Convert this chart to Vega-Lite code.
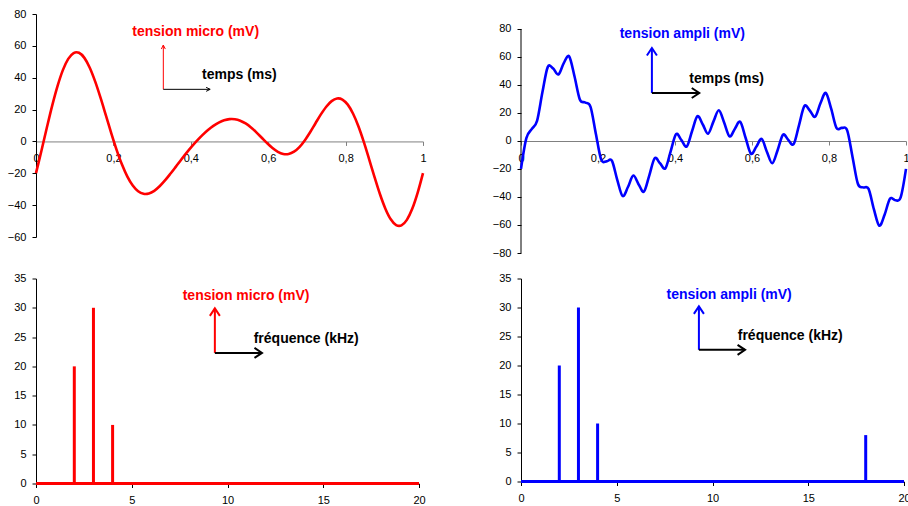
{
  "$schema": "https://vega.github.io/schema/vega-lite/v6.json",
  "autosize": {"type": "none"},
  "padding": {"left": 36, "top": 14, "right": 872, "bottom": 492},
  "background": "white",
  "config": {
    "view": {"stroke": null},
    "axis": {"labelFont": "Liberation Sans", "labelFontSize": 11, "labelColor": "#000000", "domainColor": "#000000", "tickColor": "#000000", "grid": false, "tickSize": 4, "labelFlush": false, "labelOverlap": false, "tickCount": 30, "format": "~g"},
    "text": {"font": "Liberation Sans"}
  },
  "datasets": {
    "time": [
      {"t": 0, "micro": -19.90, "ampli": -19.90},
      {"t": 0.0139, "micro": -5.99, "ampli": 2.01},
      {"t": 0.0278, "micro": 8.43, "ampli": 8.43},
      {"t": 0.0417, "micro": 22.33, "ampli": 14.33},
      {"t": 0.0556, "micro": 34.73, "ampli": 34.73},
      {"t": 0.0694, "micro": 44.77, "ampli": 52.77},
      {"t": 0.0833, "micro": 51.83, "ampli": 51.83},
      {"t": 0.0972, "micro": 55.50, "ampli": 47.50},
      {"t": 0.1111, "micro": 55.65, "ampli": 55.65},
      {"t": 0.125, "micro": 52.45, "ampli": 60.45},
      {"t": 0.1389, "micro": 46.26, "ampli": 46.26},
      {"t": 0.1528, "micro": 37.68, "ampli": 29.68},
      {"t": 0.1667, "micro": 27.46, "ampli": 27.46},
      {"t": 0.1806, "micro": 16.37, "ampli": 24.37},
      {"t": 0.1944, "micro": 5.23, "ampli": 5.23},
      {"t": 0.2083, "micro": -5.28, "ampli": -13.28},
      {"t": 0.2222, "micro": -14.54, "ampli": -14.54},
      {"t": 0.2361, "micro": -22.10, "ampli": -14.10},
      {"t": 0.25, "micro": -27.72, "ampli": -27.72},
      {"t": 0.2639, "micro": -31.28, "ampli": -39.28},
      {"t": 0.2778, "micro": -32.87, "ampli": -32.87},
      {"t": 0.2917, "micro": -32.69, "ampli": -24.69},
      {"t": 0.3056, "micro": -31.01, "ampli": -31.01},
      {"t": 0.3194, "micro": -28.17, "ampli": -36.17},
      {"t": 0.3333, "micro": -24.51, "ampli": -24.51},
      {"t": 0.3472, "micro": -20.33, "ampli": -12.33},
      {"t": 0.3611, "micro": -15.95, "ampli": -15.95},
      {"t": 0.375, "micro": -11.51, "ampli": -19.51},
      {"t": 0.3889, "micro": -7.22, "ampli": -7.22},
      {"t": 0.4028, "micro": -3.14, "ampli": 4.86},
      {"t": 0.4167, "micro": 0.64, "ampli": 0.64},
      {"t": 0.4306, "micro": 4.08, "ampli": -3.92},
      {"t": 0.4444, "micro": 7.13, "ampli": 7.13},
      {"t": 0.4583, "micro": 9.74, "ampli": 17.74},
      {"t": 0.4722, "micro": 11.80, "ampli": 11.80},
      {"t": 0.4861, "micro": 13.26, "ampli": 5.26},
      {"t": 0.5, "micro": 13.98, "ampli": 13.98},
      {"t": 0.5139, "micro": 13.91, "ampli": 21.91},
      {"t": 0.5278, "micro": 13.01, "ampli": 13.01},
      {"t": 0.5417, "micro": 11.27, "ampli": 3.27},
      {"t": 0.5556, "micro": 8.79, "ampli": 8.79},
      {"t": 0.5694, "micro": 5.71, "ampli": 13.71},
      {"t": 0.5833, "micro": 2.31, "ampli": 2.31},
      {"t": 0.5972, "micro": -1.10, "ampli": -9.10},
      {"t": 0.6111, "micro": -4.17, "ampli": -4.17},
      {"t": 0.625, "micro": -6.53, "ampli": 1.47},
      {"t": 0.6389, "micro": -7.84, "ampli": -7.84},
      {"t": 0.6528, "micro": -7.86, "ampli": -15.86},
      {"t": 0.6667, "micro": -6.42, "ampli": -6.42},
      {"t": 0.6806, "micro": -3.53, "ampli": 4.47},
      {"t": 0.6944, "micro": 0.65, "ampli": 0.65},
      {"t": 0.7083, "micro": 5.78, "ampli": -2.22},
      {"t": 0.7222, "micro": 11.40, "ampli": 11.40},
      {"t": 0.7361, "micro": 16.96, "ampli": 24.96},
      {"t": 0.75, "micro": 21.80, "ampli": 21.80},
      {"t": 0.7639, "micro": 25.32, "ampli": 17.32},
      {"t": 0.7778, "micro": 26.95, "ampli": 26.95},
      {"t": 0.7917, "micro": 26.29, "ampli": 34.29},
      {"t": 0.8056, "micro": 23.09, "ampli": 23.09},
      {"t": 0.8194, "micro": 17.37, "ampli": 9.37},
      {"t": 0.8333, "micro": 9.37, "ampli": 9.37},
      {"t": 0.8472, "micro": -0.43, "ampli": 7.57},
      {"t": 0.8611, "micro": -11.37, "ampli": -11.37},
      {"t": 0.875, "micro": -22.57, "ampli": -30.57},
      {"t": 0.8889, "micro": -33.16, "ampli": -33.16},
      {"t": 0.9028, "micro": -42.20, "ampli": -34.20},
      {"t": 0.9167, "micro": -48.88, "ampli": -48.88},
      {"t": 0.9306, "micro": -52.52, "ampli": -60.52},
      {"t": 0.9444, "micro": -52.69, "ampli": -52.69},
      {"t": 0.9583, "micro": -49.24, "ampli": -41.24},
      {"t": 0.9722, "micro": -42.30, "ampli": -42.30},
      {"t": 0.9861, "micro": -32.28, "ampli": -40.28},
      {"t": 1, "micro": -19.90, "ampli": -19.90}
    ],
    "spec_micro": [
      {"f": 2, "a": 20},
      {"f": 3, "a": 30},
      {"f": 4, "a": 10}
    ],
    "spec_ampli": [
      {"f": 2, "a": 20},
      {"f": 3, "a": 30},
      {"f": 4, "a": 10},
      {"f": 18, "a": 8}
    ]
  },
  "columns": 2,
  "spacing": {"row": 25.5, "column": 98},
  "bounds": "flush",
  "concat": [
    {
      "width": 387, "height": 223,
      "layer": [
        {"data": {"name": "time"},
         "mark": {"type": "line", "color": "#ff0000", "strokeWidth": 2.6, "interpolate": "cardinal"},
         "encoding": {
           "x": {"field": "t", "type": "quantitative", "scale": {"domain": [0, 1], "nice": false, "zero": false},
                 "axis": {"title": null, "values": [0, 0.2, 0.4, 0.6, 0.8, 1], "tickCount": 30, "format": "~g", "labelExpr": "replace(datum.label, '.', ',')", "offset": -95.57, "domainColor": "#808080", "tickColor": "#808080", "labelPadding": 7, "labelOverlap": false}},
           "y": {"field": "micro", "type": "quantitative", "scale": {"domain": [-60, 80], "nice": false, "zero": false},
                 "axis": {"title": null, "values": [-60, -40, -20, 0, 20, 40, 60, 80], "tickCount": 30, "format": "~g", "labelPadding": 6, "labelOverlap": false}}
         }},
        {"data": {"values": [{}]}, "mark": {"type": "rule", "color": "#ff0000", "strokeWidth": 1},
         "encoding": {"x": {"datum": 0.329}, "y": {"datum": 32.7}, "y2": {"datum": 60.5}}},
        {"data": {"values": [{}]}, "mark": {"type": "point", "shape": "M-1,2L0,0L1,2", "size": 16, "filled": false, "color": "#ff0000", "strokeWidth": 1, "opacity": 1},
         "encoding": {"x": {"datum": 0.329}, "y": {"datum": 60.5}}},
        {"data": {"values": [{}]}, "mark": {"type": "rule", "color": "#000000", "strokeWidth": 1},
         "encoding": {"x": {"datum": 0.329}, "x2": {"datum": 0.45}, "y": {"datum": 32.7}}},
        {"data": {"values": [{}]}, "mark": {"type": "point", "shape": "M-2,-1L0,0L-2,1", "size": 16, "filled": false, "color": "#000000", "strokeWidth": 1, "opacity": 1},
         "encoding": {"x": {"datum": 0.45}, "y": {"datum": 32.7}}},
        {"data": {"values": [{}]}, "mark": {"type": "text", "fontWeight": "bold", "fontSize": 14, "color": "#ff0000", "align": "center", "baseline": "middle"},
         "encoding": {"x": {"datum": 0.4125}, "y": {"datum": 68.9}, "text": {"value": "tension micro (mV)"}}},
        {"data": {"values": [{}]}, "mark": {"type": "text", "fontWeight": "bold", "fontSize": 14, "color": "#000000", "align": "center", "baseline": "middle"},
         "encoding": {"x": {"datum": 0.5255}, "y": {"datum": 42}, "text": {"value": "temps (ms)"}}}
      ]
    },
    {
      "width": 385, "height": 239,
      "layer": [
        {"data": {"values": [{}]}, "mark": {"type": "rule", "color": "#000000", "strokeWidth": 1},
         "encoding": {"x": {"datum": 0}, "y": {"datum": -80}, "y2": {"datum": 80}}},
        {"data": {"name": "time"},
         "mark": {"type": "line", "color": "#0000ff", "strokeWidth": 2.6, "interpolate": "cardinal"},
         "encoding": {
           "x": {"field": "t", "type": "quantitative", "scale": {"domain": [0, 1], "nice": false, "zero": false},
                 "axis": {"title": null, "values": [0, 0.2, 0.4, 0.6, 0.8, 1], "tickCount": 30, "format": "~g", "labelExpr": "replace(datum.label, '.', ',')", "offset": -112, "domainColor": "#808080", "tickColor": "#808080", "labelPadding": 7, "labelOverlap": false}},
           "y": {"field": "ampli", "type": "quantitative", "scale": {"domain": [-80, 90.7], "nice": false, "zero": false},
                 "axis": {"title": null, "values": [-80, -60, -40, -20, 0, 20, 40, 60, 80], "tickCount": 30, "format": "~g", "labelPadding": 6, "domain": false, "labelOverlap": false}}
         }},
        {"data": {"values": [{}]}, "mark": {"type": "rule", "color": "#0000ff", "strokeWidth": 2},
         "encoding": {"x": {"datum": 0.34}, "y": {"datum": 34.3}, "y2": {"datum": 66.4}}},
        {"data": {"values": [{}]}, "mark": {"type": "point", "shape": "M-1,1.5L0,0L1,1.5", "size": 100, "filled": false, "color": "#0000ff", "strokeWidth": 2, "opacity": 1},
         "encoding": {"x": {"datum": 0.34}, "y": {"datum": 66.4}}},
        {"data": {"values": [{}]}, "mark": {"type": "rule", "color": "#000000", "strokeWidth": 2},
         "encoding": {"x": {"datum": 0.34}, "x2": {"datum": 0.463}, "y": {"datum": 34.3}}},
        {"data": {"values": [{}]}, "mark": {"type": "point", "shape": "M-1.5,-1L0,0L-1.5,1", "size": 100, "filled": false, "color": "#000000", "strokeWidth": 2, "opacity": 1},
         "encoding": {"x": {"datum": 0.463}, "y": {"datum": 34.3}}},
        {"data": {"values": [{}]}, "mark": {"type": "text", "fontWeight": "bold", "fontSize": 14, "color": "#0000ff", "align": "center", "baseline": "middle"},
         "encoding": {"x": {"datum": 0.419}, "y": {"datum": 76.2}, "text": {"value": "tension ampli (mV)"}}},
        {"data": {"values": [{}]}, "mark": {"type": "text", "fontWeight": "bold", "fontSize": 14, "color": "#000000", "align": "center", "baseline": "middle"},
         "encoding": {"x": {"datum": 0.534}, "y": {"datum": 44.2}, "text": {"value": "temps (ms)"}}}
      ]
    },
    {
      "width": 383, "height": 205,
      "layer": [
        {"data": {"name": "spec_micro"},
         "mark": {"type": "rule", "color": "#ff0000", "strokeWidth": 3},
         "encoding": {
           "x": {"field": "f", "type": "quantitative", "scale": {"domain": [0, 20], "nice": false},
                 "axis": {"title": null, "values": [0, 5, 10, 15, 20], "tickCount": 30, "format": "d", "labelPadding": 7, "labelOverlap": false}},
           "y": {"field": "a", "type": "quantitative", "scale": {"domain": [0, 35], "nice": false},
                 "axis": {"title": null, "values": [0, 5, 10, 15, 20, 25, 30, 35], "tickCount": 30, "format": "d", "labelPadding": 6, "labelOverlap": false}},
           "y2": {"datum": 0}
         }},
        {"data": {"values": [{}]}, "mark": {"type": "rule", "color": "#ff0000", "strokeWidth": 3},
         "encoding": {"x": {"datum": 0}, "x2": {"datum": 20}, "y": {"datum": 0}}},
        {"data": {"values": [{}]}, "mark": {"type": "rule", "color": "#ff0000", "strokeWidth": 2},
         "encoding": {"x": {"datum": 9.34}, "y": {"datum": 22.3}, "y2": {"datum": 29.9}}},
        {"data": {"values": [{}]}, "mark": {"type": "point", "shape": "M-1,1.5L0,0L1,1.5", "size": 100, "filled": false, "color": "#ff0000", "strokeWidth": 2, "opacity": 1},
         "encoding": {"x": {"datum": 9.34}, "y": {"datum": 29.9}}},
        {"data": {"values": [{}]}, "mark": {"type": "rule", "color": "#000000", "strokeWidth": 2},
         "encoding": {"x": {"datum": 9.34}, "x2": {"datum": 11.8}, "y": {"datum": 22.3}}},
        {"data": {"values": [{}]}, "mark": {"type": "point", "shape": "M-1.5,-1L0,0L-1.5,1", "size": 100, "filled": false, "color": "#000000", "strokeWidth": 2, "opacity": 1},
         "encoding": {"x": {"datum": 11.8}, "y": {"datum": 22.3}}},
        {"data": {"values": [{}]}, "mark": {"type": "text", "fontWeight": "bold", "fontSize": 14, "color": "#ff0000", "align": "center", "baseline": "middle"},
         "encoding": {"x": {"datum": 10.97}, "y": {"datum": 32.0}, "text": {"value": "tension micro (mV)"}}},
        {"data": {"values": [{}]}, "mark": {"type": "text", "fontWeight": "bold", "fontSize": 14, "color": "#000000", "align": "center", "baseline": "middle"},
         "encoding": {"x": {"datum": 14.11}, "y": {"datum": 24.7}, "text": {"value": "fréquence (kHz)"}}}
      ]
    },
    {
      "width": 383, "height": 203,
      "layer": [
        {"data": {"name": "spec_ampli"},
         "mark": {"type": "rule", "color": "#0000ff", "strokeWidth": 3},
         "encoding": {
           "x": {"field": "f", "type": "quantitative", "scale": {"domain": [0, 20], "nice": false},
                 "axis": {"title": null, "values": [0, 5, 10, 15, 20], "tickCount": 30, "format": "d", "labelPadding": 7, "labelOverlap": false}},
           "y": {"field": "a", "type": "quantitative", "scale": {"domain": [0, 35], "nice": false},
                 "axis": {"title": null, "values": [0, 5, 10, 15, 20, 25, 30, 35], "tickCount": 30, "format": "d", "labelPadding": 6, "labelOverlap": false}},
           "y2": {"datum": 0}
         }},
        {"data": {"values": [{}]}, "mark": {"type": "rule", "color": "#0000ff", "strokeWidth": 3},
         "encoding": {"x": {"datum": 0}, "x2": {"datum": 20}, "y": {"datum": 0}}},
        {"data": {"values": [{}]}, "mark": {"type": "rule", "color": "#0000ff", "strokeWidth": 2},
         "encoding": {"x": {"datum": 9.29}, "y": {"datum": 22.7}, "y2": {"datum": 30.2}}},
        {"data": {"values": [{}]}, "mark": {"type": "point", "shape": "M-1,1.5L0,0L1,1.5", "size": 100, "filled": false, "color": "#0000ff", "strokeWidth": 2, "opacity": 1},
         "encoding": {"x": {"datum": 9.29}, "y": {"datum": 30.2}}},
        {"data": {"values": [{}]}, "mark": {"type": "rule", "color": "#000000", "strokeWidth": 2},
         "encoding": {"x": {"datum": 9.29}, "x2": {"datum": 11.7}, "y": {"datum": 22.7}}},
        {"data": {"values": [{}]}, "mark": {"type": "point", "shape": "M-1.5,-1L0,0L-1.5,1", "size": 100, "filled": false, "color": "#000000", "strokeWidth": 2, "opacity": 1},
         "encoding": {"x": {"datum": 11.7}, "y": {"datum": 22.7}}},
        {"data": {"values": [{}]}, "mark": {"type": "text", "fontWeight": "bold", "fontSize": 14, "color": "#0000ff", "align": "center", "baseline": "middle"},
         "encoding": {"x": {"datum": 10.87}, "y": {"datum": 32.2}, "text": {"value": "tension ampli (mV)"}}},
        {"data": {"values": [{}]}, "mark": {"type": "text", "fontWeight": "bold", "fontSize": 14, "color": "#000000", "align": "center", "baseline": "middle"},
         "encoding": {"x": {"datum": 14.06}, "y": {"datum": 25.1}, "text": {"value": "fréquence (kHz)"}}}
      ]
    }
  ]
}
